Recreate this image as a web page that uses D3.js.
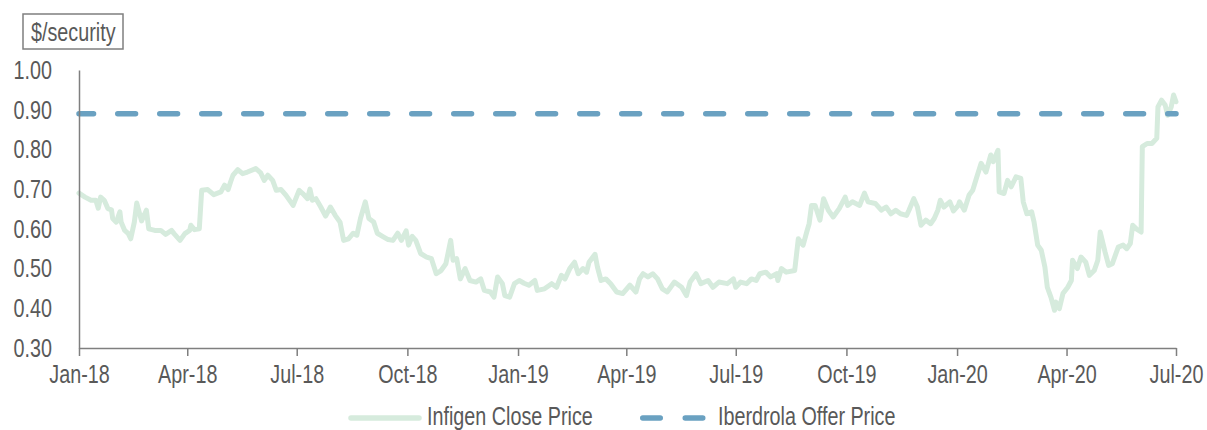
<!DOCTYPE html>
<html>
<head>
<meta charset="utf-8">
<script src="https://cdn.jsdelivr.net/npm/d3@7"></script>
<style>
  body { margin: 0; background: #fff; }
  text { font-family: "Liberation Sans", Arial, sans-serif; fill: #595959; }
</style>
</head>
<body>
<div class="canvas"></div>
<script>
// Infigen daily close
const closeDates = [
  "2018-01-01","2018-01-06","2018-01-11","2018-01-15","2018-01-17","2018-01-19","2018-01-22","2018-01-25","2018-01-28","2018-01-29",
  "2018-02-01","2018-02-04","2018-02-05","2018-02-08","2018-02-11","2018-02-13","2018-02-16","2018-02-18","2018-02-22","2018-02-26",
  "2018-02-28","2018-03-05","2018-03-10","2018-03-14","2018-03-19","2018-03-21","2018-03-26","2018-03-30","2018-04-03","2018-04-04",
  "2018-04-07","2018-04-11","2018-04-13","2018-04-18","2018-04-23","2018-04-29","2018-05-02","2018-05-05","2018-05-07","2018-05-09",
  "2018-05-13","2018-05-17","2018-05-21","2018-05-28","2018-06-01","2018-06-04","2018-06-07","2018-06-11","2018-06-14","2018-06-18",
  "2018-06-22","2018-06-28","2018-07-03","2018-07-06","2018-07-10","2018-07-12","2018-07-14","2018-07-17","2018-07-21","2018-07-25",
  "2018-07-29","2018-08-02","2018-08-06","2018-08-09","2018-08-13","2018-08-17","2018-08-20","2018-08-23","2018-08-27","2018-08-30",
  "2018-09-03","2018-09-06","2018-09-11","2018-09-15","2018-09-19","2018-09-23","2018-09-26","2018-09-30","2018-10-02","2018-10-05",
  "2018-10-08","2018-10-12","2018-10-17","2018-10-21","2018-10-25","2018-10-29","2018-11-02","2018-11-06","2018-11-08","2018-11-11",
  "2018-11-14","2018-11-18","2018-11-22","2018-11-27","2018-12-01","2018-12-04","2018-12-09","2018-12-12","2018-12-15","2018-12-19",
  "2018-12-21","2018-12-25","2018-12-29","2019-01-02","2019-01-06","2019-01-10","2019-01-15","2019-01-17","2019-01-23","2019-01-29",
  "2019-02-02","2019-02-06","2019-02-09","2019-02-13","2019-02-17","2019-02-20","2019-02-24","2019-02-27","2019-03-01","2019-03-06",
  "2019-03-08","2019-03-11","2019-03-15","2019-03-19","2019-03-24","2019-03-29","2019-04-04","2019-04-09","2019-04-12","2019-04-15",
  "2019-04-19","2019-04-23","2019-04-27","2019-05-01","2019-05-05","2019-05-11","2019-05-17","2019-05-21","2019-05-24","2019-05-29",
  "2019-06-02","2019-06-08","2019-06-12","2019-06-17","2019-06-24","2019-06-29","2019-07-01","2019-07-05","2019-07-10","2019-07-14",
  "2019-07-18","2019-07-21","2019-07-26","2019-07-30","2019-08-04","2019-08-05","2019-08-08","2019-08-12","2019-08-19","2019-08-22",
  "2019-08-26","2019-08-29","2019-08-31","2019-09-02","2019-09-05","2019-09-09","2019-09-12","2019-09-16","2019-09-20","2019-09-25",
  "2019-09-30","2019-10-02","2019-10-06","2019-10-12","2019-10-16","2019-10-19","2019-10-25","2019-10-30","2019-11-03","2019-11-07",
  "2019-11-11","2019-11-15","2019-11-20","2019-11-22","2019-11-26","2019-11-29","2019-12-02","2019-12-06","2019-12-10","2019-12-13",
  "2019-12-16","2019-12-18","2019-12-21","2019-12-26","2019-12-29","2020-01-02","2020-01-03","2020-01-07","2020-01-11","2020-01-14",
  "2020-01-17","2020-01-21","2020-01-25","2020-01-29","2020-01-31","2020-02-04","2020-02-05","2020-02-09","2020-02-12","2020-02-15",
  "2020-02-19","2020-02-23","2020-02-25","2020-02-28","2020-03-03","2020-03-05","2020-03-08","2020-03-11","2020-03-14","2020-03-16",
  "2020-03-19","2020-03-22","2020-03-23","2020-03-26","2020-03-29","2020-04-02","2020-04-05","2020-04-06","2020-04-10","2020-04-13",
  "2020-04-17","2020-04-20","2020-04-24","2020-04-27","2020-04-29","2020-05-03","2020-05-06","2020-05-09","2020-05-14","2020-05-18",
  "2020-05-21","2020-05-24","2020-05-26","2020-05-29","2020-06-02","2020-06-03","2020-06-07","2020-06-11","2020-06-15","2020-06-16",
  "2020-06-19","2020-06-22","2020-06-24","2020-06-27","2020-06-29","2020-07-01"
];
const closePrices = [
  0.690,0.680,0.672,0.672,0.652,0.680,0.672,0.651,0.648,0.626,
  0.617,0.643,0.617,0.596,0.588,0.575,0.617,0.665,0.620,0.647,
  0.600,0.596,0.596,0.586,0.596,0.588,0.571,0.588,0.596,0.609,
  0.598,0.600,0.697,0.699,0.686,0.693,0.710,0.699,0.718,0.735,
  0.749,0.739,0.743,0.752,0.741,0.722,0.735,0.722,0.697,0.699,
  0.685,0.659,0.697,0.689,0.676,0.700,0.672,0.676,0.655,0.632,
  0.655,0.634,0.617,0.571,0.575,0.589,0.584,0.626,0.668,0.626,
  0.617,0.589,0.580,0.573,0.571,0.589,0.571,0.595,0.559,0.581,
  0.571,0.538,0.529,0.525,0.487,0.495,0.512,0.571,0.521,0.525,
  0.474,0.500,0.470,0.466,0.474,0.445,0.441,0.428,0.479,0.462,
  0.432,0.428,0.462,0.470,0.463,0.458,0.470,0.445,0.449,0.462,
  0.453,0.483,0.474,0.500,0.516,0.487,0.500,0.491,0.516,0.536,
  0.504,0.470,0.474,0.462,0.441,0.437,0.458,0.441,0.474,0.487,
  0.479,0.487,0.474,0.449,0.441,0.466,0.453,0.432,0.466,0.487,
  0.462,0.470,0.453,0.466,0.462,0.474,0.453,0.466,0.462,0.474,
  0.470,0.487,0.491,0.479,0.487,0.470,0.500,0.491,0.495,0.575,
  0.559,0.592,0.613,0.659,0.659,0.622,0.676,0.647,0.630,0.651,
  0.680,0.659,0.668,0.659,0.690,0.668,0.664,0.647,0.655,0.638,
  0.647,0.638,0.634,0.647,0.676,0.655,0.609,0.622,0.613,0.626,
  0.647,0.672,0.655,0.668,0.645,0.659,0.668,0.647,0.685,0.697,
  0.727,0.765,0.743,0.786,0.769,0.798,0.693,0.689,0.722,0.706,
  0.731,0.727,0.668,0.638,0.643,0.617,0.559,0.546,0.504,0.453,
  0.428,0.395,0.416,0.399,0.437,0.453,0.470,0.521,0.500,0.529,
  0.516,0.483,0.495,0.521,0.592,0.542,0.508,0.512,0.554,0.559,
  0.550,0.563,0.609,0.600,0.592,0.807,0.815,0.815,0.828,0.907,
  0.924,0.912,0.886,0.907,0.937,0.920
];
const offerPrice = 0.89;
const xTickDates = ["2018-01-01","2018-04-01","2018-07-01","2018-10-01","2019-01-01","2019-04-01",
  "2019-07-01","2019-10-01","2020-01-01","2020-04-01","2020-07-01"];
const yTicks = [0.30, 0.40, 0.50, 0.60, 0.70, 0.80, 0.90, 1.00];
const seriesNames = ["Infigen Close Price", "Iberdrola Offer Price"];

const dims = {width: 1207, height: 430};
const plot = {left: 79, right: 1176, top: 70, bottom: 348};
const greenCol = '#d6ebdd';
const blueCol = '#6aa1c1';
const axisCol = '#7f7f7f';
const fontSize = 26;
const squeeze = 0.76;   // text in the original is a tall narrow face

const parse = d3.timeParse('%Y-%m-%d');
const data = closeDates.map((d, i) => ({date: parse(d), value: closePrices[i]}));
const tickDates = xTickDates.map(parse);

// horizontally condense a text selection, keeping its x position
const narrow = sel => sel.each(function() {
  const t = d3.select(this);
  const x0 = +t.attr('x') || 0;
  t.attr('x', x0 / squeeze).attr('transform', `scale(${squeeze},1)`);
});

const svg = d3.select('.canvas')
  .append('svg')
    .attr('width', dims.width)
    .attr('height', dims.height);

const x = d3.scaleTime()
  .domain([tickDates[0], tickDates[tickDates.length - 1]])
  .range([plot.left, plot.right]);

const y = d3.scaleLinear()
  .domain([0.3, 1.0])
  .range([plot.bottom, plot.top]);

// unit label box
svg.append('rect')
  .attr('x', 23).attr('y', 14)
  .attr('width', 100).attr('height', 35)
  .attr('fill', 'none')
  .attr('stroke', axisCol)
  .attr('stroke-width', 1.5);
svg.append('text')
  .attr('x', 31).attr('y', 41)
  .attr('font-size', fontSize)
  .text('$/security')
  .call(narrow);

// close price line
const line = d3.line()
  .x(d => x(d.date))
  .y(d => y(d.value));

svg.append('path')
  .datum(data)
  .attr('d', line)
  .attr('fill', 'none')
  .attr('stroke', greenCol)
  .attr('stroke-width', 5)
  .attr('stroke-linejoin', 'round')
  .attr('stroke-linecap', 'round');

// offer price
svg.append('line')
  .attr('x1', x(tickDates[0]))
  .attr('x2', x(tickDates[tickDates.length - 1]))
  .attr('y1', y(offerPrice))
  .attr('y2', y(offerPrice))
  .attr('stroke', blueCol)
  .attr('stroke-width', 5.5)
  .attr('stroke-linecap', 'round')
  .attr('stroke-dasharray', '17.8,24.2')
  .attr('stroke-dashoffset', 3.25);

// axes
const xAxis = d3.axisBottom(x)
  .tickValues(tickDates)
  .tickFormat(d3.timeFormat('%b-%y'))
  .tickSize(8)
  .tickSizeOuter(0)
  .tickPadding(9);

const yAxis = d3.axisLeft(y)
  .tickValues(yTicks)
  .tickFormat(d3.format('.2f'))
  .tickSize(0)
  .tickPadding(27);

const gx = svg.append('g')
  .attr('transform', `translate(0,${plot.bottom})`)
  .call(xAxis);
const gy = svg.append('g')
  .attr('transform', `translate(${plot.left},0)`)
  .call(yAxis);

[gx, gy].forEach(g => {
  g.select('.domain').attr('stroke', axisCol).attr('stroke-width', 1.5);
  g.selectAll('.tick line').attr('stroke', axisCol).attr('stroke-width', 1.5);
  g.selectAll('.tick text')
    .attr('font-size', fontSize)
    .attr('font-family', null)
    .attr('fill', '#595959')
    .call(narrow);
});

// legend
const legend = svg.append('g');
legend.append('line')
  .attr('x1', 351).attr('x2', 419)
  .attr('y1', 418).attr('y2', 418)
  .attr('stroke', greenCol)
  .attr('stroke-width', 5.5)
  .attr('stroke-linecap', 'round');
legend.append('text')
  .attr('x', 427).attr('y', 425)
  .attr('font-size', fontSize)
  .text(seriesNames[0])
  .call(narrow);

legend.append('line')
  .attr('x1', 642.75).attr('x2', 703.25)
  .attr('y1', 418).attr('y2', 418)
  .attr('stroke', blueCol)
  .attr('stroke-width', 5.5)
  .attr('stroke-linecap', 'round')
  .attr('stroke-dasharray', '17.5,25');
legend.append('text')
  .attr('x', 718).attr('y', 425)
  .attr('font-size', fontSize)
  .text(seriesNames[1])
  .call(narrow);
</script>
</body>
</html>
